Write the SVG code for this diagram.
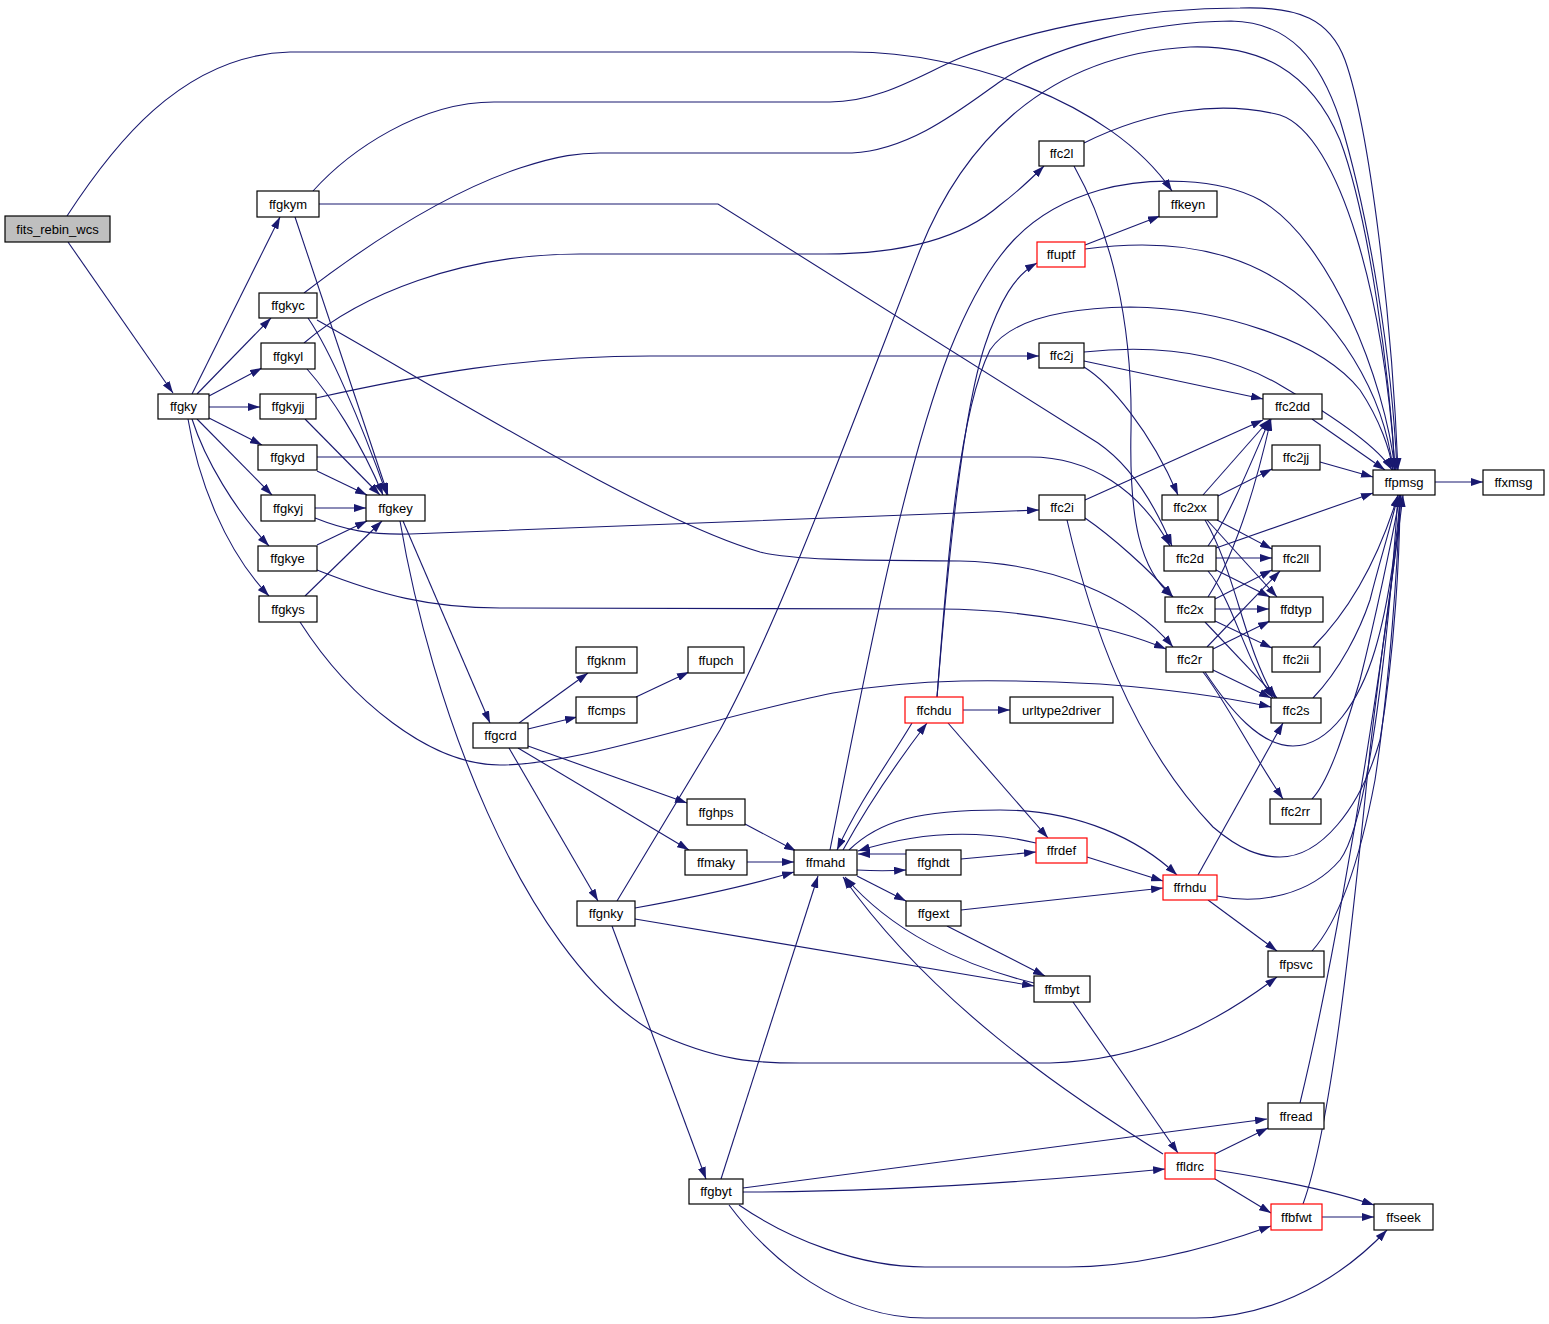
<svg xmlns="http://www.w3.org/2000/svg" width="1549" height="1324" viewBox="0 0 1549 1324">
<defs>
<marker id="a" viewBox="0 0 12 8" markerWidth="12" markerHeight="8" refX="12" refY="4" orient="auto" markerUnits="userSpaceOnUse">
<path d="M0,0 L12,4 L0,8 z" fill="#191970"/>
</marker>
<style>
.e path{fill:none;stroke:#191970;stroke-width:1.1;marker-end:url(#a)}
.n rect{fill:#fff;stroke:#000;stroke-width:1.2}
.n.r rect{stroke:#ff0000}
.n.g rect{fill:#bfbfbf}
.n text{font-family:"Liberation Sans",Arial,Helvetica,sans-serif;font-size:13px;text-anchor:middle;fill:#000}
</style>
</defs>
<rect width="1549" height="1324" fill="#fff"/>
<g id="edges" class="e">
<path d="M68,242 L173,393"/>
<path d="M67,216 C110,150 180,55 290,52 L852,52 C960,52 1110,100 1172,191"/>
<path d="M192,394 L280,217"/>
<path d="M197,394 L271,318"/>
<path d="M209,396 L262,368"/>
<path d="M209,407 L260,407"/>
<path d="M209,418 L262,445"/>
<path d="M197,419 L272,495"/>
<path d="M192,419 C205,460 235,510 269,546"/>
<path d="M188,419 C198,480 225,550 269,596"/>
<path d="M295,217 L388,495"/>
<path d="M313,191 C350,150 420,102 494,102 L830,102 C880,102 920,75 960,58 C1040,25 1150,8 1240,8 C1300,6 1330,20 1345,60 C1370,130 1392,320 1398,470"/>
<path d="M319,204 L718,204 L1098,443 C1130,465 1155,505 1172,546"/>
<path d="M308,318 C330,350 360,420 387,495"/>
<path d="M304,293 C360,250 440,195 520,168 C560,155 580,153 600,153 L852,153 C910,150 960,110 998,83 C1050,45 1150,22 1231,21 C1290,22 1320,60 1340,120 C1370,220 1392,360 1397,470"/>
<path d="M317,320 C450,395 650,520 760,552 C800,562 900,560 960,561 C1050,563 1130,595 1173,647"/>
<path d="M307,369 C330,395 360,440 383,495"/>
<path d="M304,343 C360,295 460,254 580,254 L825,254 C900,254 960,240 1000,205 C1020,190 1030,180 1044,166"/>
<path d="M305,419 L380,495"/>
<path d="M316,398 C420,375 520,356 650,356 L1039,356"/>
<path d="M317,471 L367,495"/>
<path d="M317,457 L1030,457 C1090,457 1140,490 1170,546"/>
<path d="M315,508 L366,508"/>
<path d="M315,518 C345,530 370,535 410,534 L1039,510"/>
<path d="M317,545 L367,521"/>
<path d="M317,570 C380,595 430,608 500,608 L940,609 C1020,609 1110,625 1166,649"/>
<path d="M305,596 L382,521"/>
<path d="M300,622 C350,700 430,765 500,765 C580,765 700,720 833,693 C920,678 1000,679 1100,684 C1180,690 1230,698 1271,707"/>
<path d="M403,521 L490,723"/>
<path d="M400,521 C430,700 520,950 650,1030 C720,1063 760,1063 800,1063 L1050,1063 C1150,1060 1220,1020 1277,977"/>
<path d="M519,723 L588,673"/>
<path d="M528,729 L577,717"/>
<path d="M528,746 L687,803"/>
<path d="M518,748 L689,850"/>
<path d="M509,748 L598,901"/>
<path d="M636,697 L689,672"/>
<path d="M617,901 L720,730 C780,620 850,430 920,250 C960,150 1040,55 1190,47 C1260,45 1310,70 1340,140 C1370,220 1390,380 1395,470"/>
<path d="M635,908 C690,898 740,888 794,872"/>
<path d="M635,919 L1034,986"/>
<path d="M612,926 L706,1179"/>
<path d="M747,862 L794,862"/>
<path d="M745,824 L796,851"/>
<path d="M843,850 C865,810 895,765 927,723"/>
<path d="M857,870 C875,871 890,871 906,870"/>
<path d="M857,876 L906,901"/>
<path d="M849,850 C880,820 920,810 1000,810 C1080,810 1140,840 1177,875"/>
<path d="M830,850 C860,700 900,480 950,350 C990,250 1030,210 1100,190 C1150,176 1220,178 1260,200 C1330,240 1385,380 1395,470"/>
<path d="M963,710 L1010,710"/>
<path d="M948,723 L1048,838"/>
<path d="M912,723 C890,760 860,800 837,850"/>
<path d="M937,697 C945,600 960,420 985,345 C1000,300 1015,275 1037,263"/>
<path d="M937,697 C945,600 955,420 990,350 C1010,320 1060,308 1130,307 C1220,308 1320,340 1360,390 C1380,420 1390,450 1393,470"/>
<path d="M1036,843 C990,832 930,828 858,851"/>
<path d="M906,854 L858,854"/>
<path d="M961,859 L1036,852"/>
<path d="M961,910 L1163,888"/>
<path d="M947,926 L1045,976"/>
<path d="M1087,857 L1163,881"/>
<path d="M1034,983 C960,965 890,930 845,877"/>
<path d="M1073,1002 L1178,1153"/>
<path d="M721,1179 L818,876"/>
<path d="M743,1188 L1267,1119"/>
<path d="M743,1192 C850,1192 1000,1185 1165,1169"/>
<path d="M739,1205 C790,1240 860,1267 925,1267 L1068,1267 C1140,1267 1210,1248 1271,1226"/>
<path d="M729,1205 C770,1260 840,1318 925,1318 L1196,1318 C1260,1318 1330,1290 1387,1230"/>
<path d="M1163,1154 C1060,1090 930,1000 843,877"/>
<path d="M1215,1154 L1268,1128"/>
<path d="M1215,1170 C1280,1180 1330,1190 1374,1205"/>
<path d="M1215,1179 L1271,1213"/>
<path d="M1322,1217 L1374,1217"/>
<path d="M1303,1204 C1330,1130 1350,950 1370,750 C1385,620 1398,540 1403,495"/>
<path d="M1300,1103 C1330,980 1360,800 1375,700 C1390,600 1398,540 1401,495"/>
<path d="M1312,951 C1340,920 1360,860 1375,780 C1390,680 1398,560 1400,495"/>
<path d="M1208,900 L1277,951"/>
<path d="M1198,875 L1283,723"/>
<path d="M1217,896 C1260,905 1310,895 1340,860 C1370,820 1390,620 1398,495"/>
<path d="M1084,143 C1150,110 1220,100 1280,115 C1340,135 1385,300 1395,470"/>
<path d="M1074,166 C1110,230 1133,320 1131,430 C1129,520 1140,570 1173,597"/>
<path d="M1085,245 L1160,216"/>
<path d="M1085,249 C1130,243 1200,240 1260,270 C1340,310 1385,400 1393,470"/>
<path d="M1084,352 C1150,345 1220,350 1280,385 C1340,420 1380,450 1392,470"/>
<path d="M1084,361 L1263,399"/>
<path d="M1084,367 C1110,383 1150,430 1178,495"/>
<path d="M1312,419 L1385,470"/>
<path d="M1320,462 L1373,477"/>
<path d="M1435,482 L1483,482"/>
<path d="M1085,500 L1263,420"/>
<path d="M1085,518 C1110,535 1150,570 1173,597"/>
<path d="M1067,520 C1090,620 1130,740 1213,827 C1240,850 1260,857 1280,857 C1320,857 1360,810 1380,740 C1395,650 1400,550 1400,495"/>
<path d="M1203,495 L1270,419"/>
<path d="M1218,496 L1272,469"/>
<path d="M1217,520 L1272,549"/>
<path d="M1207,520 L1277,597"/>
<path d="M1205,520 C1235,570 1245,650 1275,698"/>
<path d="M1208,546 C1230,515 1250,465 1270,419"/>
<path d="M1216,548 L1373,493"/>
<path d="M1216,558 L1272,558"/>
<path d="M1216,570 L1270,597"/>
<path d="M1208,571 C1233,600 1245,660 1273,698"/>
<path d="M1208,597 C1235,555 1255,490 1271,419"/>
<path d="M1215,599 L1272,570"/>
<path d="M1215,609 L1269,609"/>
<path d="M1215,621 L1272,648"/>
<path d="M1205,622 L1277,698"/>
<path d="M1207,647 L1280,571"/>
<path d="M1213,649 L1270,621"/>
<path d="M1213,670 L1271,698"/>
<path d="M1203,672 C1225,700 1250,750 1283,799"/>
<path d="M1205,672 C1230,710 1260,746 1293,746 C1330,746 1360,700 1375,650 C1390,600 1398,530 1400,495"/>
<path d="M1313,647 C1345,615 1375,570 1398,495"/>
<path d="M1313,698 C1340,670 1360,630 1370,600 C1380,560 1390,530 1398,495"/>
<path d="M1312,799 C1330,780 1345,730 1360,680 C1375,620 1392,540 1400,495"/>
</g>
<g id="fits_rebin_wcs" class="n g"><rect x="5" y="216" width="105" height="26"/><text x="57.5" y="233.5">fits_rebin_wcs</text></g>
<g id="ffgky" class="n"><rect x="158" y="394" width="51" height="25"/><text x="183.5" y="411">ffgky</text></g>
<g id="ffgkym" class="n"><rect x="257" y="191" width="62" height="26"/><text x="288" y="208.5">ffgkym</text></g>
<g id="ffgkyc" class="n"><rect x="259" y="293" width="58" height="25"/><text x="288" y="310">ffgkyc</text></g>
<g id="ffgkyl" class="n"><rect x="261" y="343" width="54" height="26"/><text x="288" y="360.5">ffgkyl</text></g>
<g id="ffgkyjj" class="n"><rect x="260" y="394" width="56" height="25"/><text x="288" y="411">ffgkyjj</text></g>
<g id="ffgkyd" class="n"><rect x="258" y="445" width="59" height="25"/><text x="287.5" y="462">ffgkyd</text></g>
<g id="ffgkyj" class="n"><rect x="261" y="495" width="54" height="26"/><text x="288" y="512.5">ffgkyj</text></g>
<g id="ffgkey" class="n"><rect x="366" y="495" width="59" height="26"/><text x="395.5" y="512.5">ffgkey</text></g>
<g id="ffgkye" class="n"><rect x="258" y="546" width="59" height="25"/><text x="287.5" y="563">ffgkye</text></g>
<g id="ffgkys" class="n"><rect x="259" y="596" width="58" height="26"/><text x="288" y="613.5">ffgkys</text></g>
<g id="ffgcrd" class="n"><rect x="473" y="723" width="55" height="25"/><text x="500.5" y="740">ffgcrd</text></g>
<g id="ffgknm" class="n"><rect x="576" y="647" width="61" height="26"/><text x="606.5" y="664.5">ffgknm</text></g>
<g id="ffupch" class="n"><rect x="688" y="647" width="56" height="26"/><text x="716" y="664.5">ffupch</text></g>
<g id="ffcmps" class="n"><rect x="576" y="697" width="61" height="26"/><text x="606.5" y="714.5">ffcmps</text></g>
<g id="ffghps" class="n"><rect x="687" y="799" width="58" height="26"/><text x="716" y="816.5">ffghps</text></g>
<g id="ffmaky" class="n"><rect x="685" y="850" width="62" height="25"/><text x="716" y="867">ffmaky</text></g>
<g id="ffgnky" class="n"><rect x="577" y="901" width="58" height="25"/><text x="606" y="918">ffgnky</text></g>
<g id="ffgbyt" class="n"><rect x="689" y="1179" width="54" height="25"/><text x="716" y="1196">ffgbyt</text></g>
<g id="ffmahd" class="n"><rect x="794" y="850" width="63" height="25"/><text x="825.5" y="867">ffmahd</text></g>
<g id="ffghdt" class="n"><rect x="906" y="850" width="55" height="25"/><text x="933.5" y="867">ffghdt</text></g>
<g id="ffgext" class="n"><rect x="906" y="901" width="55" height="25"/><text x="933.5" y="918">ffgext</text></g>
<g id="ffmbyt" class="n"><rect x="1034" y="976" width="56" height="26"/><text x="1062" y="993.5">ffmbyt</text></g>
<g id="ffchdu" class="n r"><rect x="905" y="697" width="58" height="26"/><text x="934" y="714.5">ffchdu</text></g>
<g id="urltype2driver" class="n"><rect x="1010" y="697" width="103" height="26"/><text x="1061.5" y="714.5">urltype2driver</text></g>
<g id="ffrdef" class="n r"><rect x="1036" y="838" width="51" height="25"/><text x="1061.5" y="855">ffrdef</text></g>
<g id="ffrhdu" class="n r"><rect x="1163" y="875" width="54" height="25"/><text x="1190" y="892">ffrhdu</text></g>
<g id="ffldrc" class="n r"><rect x="1165" y="1153" width="50" height="26"/><text x="1190" y="1170.5">ffldrc</text></g>
<g id="ffbfwt" class="n r"><rect x="1271" y="1204" width="51" height="26"/><text x="1296.5" y="1221.5">ffbfwt</text></g>
<g id="ffseek" class="n"><rect x="1374" y="1204" width="59" height="26"/><text x="1403.5" y="1221.5">ffseek</text></g>
<g id="ffread" class="n"><rect x="1268" y="1103" width="56" height="26"/><text x="1296" y="1120.5">ffread</text></g>
<g id="ffpsvc" class="n"><rect x="1268" y="951" width="56" height="26"/><text x="1296" y="968.5">ffpsvc</text></g>
<g id="ffc2l" class="n"><rect x="1039" y="141" width="45" height="25"/><text x="1061.5" y="158">ffc2l</text></g>
<g id="ffkeyn" class="n"><rect x="1159" y="191" width="58" height="26"/><text x="1188" y="208.5">ffkeyn</text></g>
<g id="ffuptf" class="n r"><rect x="1037" y="242" width="48" height="25"/><text x="1061" y="259">ffuptf</text></g>
<g id="ffc2j" class="n"><rect x="1039" y="343" width="45" height="25"/><text x="1061.5" y="360">ffc2j</text></g>
<g id="ffc2dd" class="n"><rect x="1263" y="394" width="59" height="25"/><text x="1292.5" y="411">ffc2dd</text></g>
<g id="ffc2jj" class="n"><rect x="1272" y="445" width="48" height="25"/><text x="1296" y="462">ffc2jj</text></g>
<g id="ffpmsg" class="n"><rect x="1373" y="470" width="62" height="25"/><text x="1404" y="487">ffpmsg</text></g>
<g id="ffxmsg" class="n"><rect x="1483" y="470" width="61" height="25"/><text x="1513.5" y="487">ffxmsg</text></g>
<g id="ffc2xx" class="n"><rect x="1162" y="495" width="56" height="25"/><text x="1190" y="512">ffc2xx</text></g>
<g id="ffc2i" class="n"><rect x="1039" y="495" width="46" height="25"/><text x="1062" y="512">ffc2i</text></g>
<g id="ffc2d" class="n"><rect x="1164" y="546" width="52" height="25"/><text x="1190" y="563">ffc2d</text></g>
<g id="ffc2ll" class="n"><rect x="1272" y="546" width="48" height="25"/><text x="1296" y="563">ffc2ll</text></g>
<g id="ffc2x" class="n"><rect x="1165" y="597" width="50" height="25"/><text x="1190" y="614">ffc2x</text></g>
<g id="ffdtyp" class="n"><rect x="1269" y="597" width="54" height="25"/><text x="1296" y="614">ffdtyp</text></g>
<g id="ffc2r" class="n"><rect x="1166" y="647" width="47" height="25"/><text x="1189.5" y="664">ffc2r</text></g>
<g id="ffc2ii" class="n"><rect x="1272" y="647" width="48" height="25"/><text x="1296" y="664">ffc2ii</text></g>
<g id="ffc2s" class="n"><rect x="1271" y="698" width="50" height="25"/><text x="1296" y="715">ffc2s</text></g>
<g id="ffc2rr" class="n"><rect x="1270" y="799" width="51" height="25"/><text x="1295.5" y="816">ffc2rr</text></g>
</svg>
